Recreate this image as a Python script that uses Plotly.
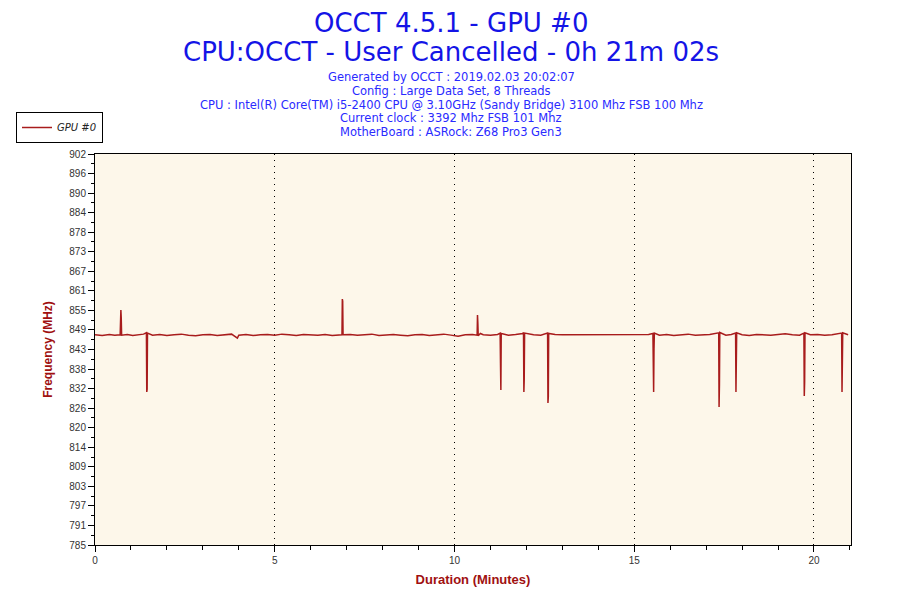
import numpy as np
import plotly.graph_objects as go

# GPU #0 core clock (minutes, MHz)
minutes = [
    0.00, 0.20, 0.40, 0.55, 0.70, 0.72, 0.73, 0.74, 0.90, 1.05,
    1.20, 1.35, 1.43, 1.44, 1.45, 1.46, 1.60, 1.80, 2.00, 2.20,
    2.40, 2.60, 2.80, 3.00, 3.20, 3.40, 3.60, 3.80, 3.96, 3.98,
    4.00, 4.20, 4.40, 4.60, 4.80, 5.00, 5.20, 5.40, 5.60, 5.80,
    6.00, 6.20, 6.40, 6.60, 6.87, 6.88, 6.89, 6.90, 7.10, 7.30,
    7.50, 7.70, 7.90, 8.10, 8.30, 8.50, 8.70, 8.90, 9.10, 9.30,
    9.50, 9.70, 9.90, 10.10, 10.30, 10.50, 10.63, 10.64, 10.65, 10.66,
    10.72, 10.80, 11.00, 11.20, 11.27, 11.28, 11.29, 11.30, 11.50, 11.70,
    11.90, 11.92, 11.93, 11.94, 11.95, 12.20, 12.40, 12.59, 12.60, 12.61,
    12.62, 12.80, 13.00, 13.20, 13.40, 13.60, 13.80, 14.00, 14.20, 14.40,
    14.60, 14.80, 15.00, 15.20, 15.40, 15.52, 15.53, 15.54, 15.55, 15.56,
    15.70, 15.90, 16.10, 16.30, 16.50, 16.70, 16.90, 17.10, 17.35, 17.36,
    17.37, 17.38, 17.55, 17.70, 17.82, 17.83, 17.84, 17.85, 18.00, 18.20,
    18.40, 18.60, 18.80, 19.00, 19.20, 19.40, 19.60, 19.72, 19.73, 19.74,
    19.75, 19.90, 20.10, 20.30, 20.50, 20.77, 20.78, 20.79, 20.80, 20.95,
]
freq_mhz = [
    847.9, 847.7, 848.0, 847.8, 847.9, 855.3, 852.9, 847.8, 848.0, 847.7,
    847.9, 848.1, 848.5, 830.8, 831.6, 848.4, 847.8, 848.0, 847.7, 847.9,
    848.1, 847.8, 847.6, 847.9, 848.0, 847.7, 847.9, 848.1, 846.9, 847.8,
    847.8, 848.0, 847.7, 847.9, 848.0, 847.8, 848.1, 847.9, 847.7, 848.0,
    847.9, 847.8, 848.0, 847.7, 847.9, 858.6, 858.0, 847.9, 848.0, 847.8,
    847.9, 848.1, 847.7, 847.9, 848.0, 847.8, 847.6, 847.9, 848.0, 847.7,
    847.9, 848.1, 847.8, 847.5, 847.9, 848.0, 847.8, 853.8, 851.4, 847.6,
    848.3, 847.9, 847.8, 848.0, 848.4, 839.2, 831.4, 848.3, 847.8, 848.0,
    848.3, 848.6, 830.8, 834.7, 848.4, 847.9, 847.8, 848.4, 827.5, 829.3,
    848.3, 848.0, 847.9, 847.9, 848.0, 847.9, 847.8, 847.9, 848.0, 847.9,
    847.8, 848.0, 847.9, 847.8, 848.0, 848.3, 839.2, 830.8, 843.7, 848.4,
    847.8, 848.0, 847.7, 847.9, 848.1, 847.8, 847.9, 848.0, 848.5, 826.3,
    832.9, 848.6, 847.8, 848.0, 848.4, 830.8, 842.2, 848.5, 847.9, 847.7,
    848.0, 847.9, 847.8, 848.0, 848.2, 847.9, 847.8, 848.4, 829.6, 833.8,
    848.5, 847.9, 848.0, 847.8, 847.9, 848.4, 830.8, 835.9, 848.5, 847.9,
]

y_tick_labels = ["785", "791", "797", "803", "809", "814", "820", "826", "832", "838",
                 "843", "849", "855", "861", "867", "873", "878", "884", "890", "896", "902"]
x_tick_labels = ["0", "5", "10", "15", "20"]

title_lines = ["OCCT 4.5.1 - GPU #0", "CPU:OCCT - User Cancelled - 0h 21m 02s"]
info_lines = [
    "Generated by OCCT : 2019.02.03 20:02:07",
    "Config : Large Data Set, 8 Threads",
    "CPU : Intel(R) Core(TM) i5-2400 CPU @ 3.10GHz (Sandy Bridge) 3100 Mhz FSB 100 Mhz",
    "Current clock : 3392 Mhz FSB 101 Mhz",
    "MotherBoard : ASRock: Z68 Pro3 Gen3",
]

Y_MIN, Y_MAX = 785, 902
X_MAX = 21.03
LINE_RED = "#a81c1c"
AXIS_RED = "#a01010"
TICK_FONT = dict(family="Liberation Sans Narrow, Liberation Sans, Arial", size=10, color="#333333")

y_ticks = np.linspace(Y_MIN, Y_MAX, len(y_tick_labels))
y_minor = (y_ticks[:-1] + y_ticks[1:]) / 2
x_ticks = [float(v) for v in x_tick_labels]

fig = go.Figure()
fig.add_trace(go.Scatter(
    x=minutes, y=freq_mhz, mode="lines", name="GPU #0",
    line=dict(color=LINE_RED, width=1.5),
))

# plot area on the page: left 94, right 850, top 153, bottom 544
# (the page body adds about 7px, so margins are 7px smaller)
def py(pix):
    return (544 - pix) / 391

page_centre = (450 - 94) / 756
annotations = []
for text, pix in zip(title_lines, [22, 51]):
    annotations.append(dict(
        text=text, x=page_centre, xref="paper", y=py(pix), yref="paper",
        xanchor="center", yanchor="middle", showarrow=False, borderpad=0,
        font=dict(family="DejaVu Sans, Verdana", size=26, color="#1414e6"),
    ))
for i, text in enumerate(info_lines):
    annotations.append(dict(
        text=text, x=page_centre, xref="paper", y=py(76 + i * 13.8), yref="paper",
        xanchor="center", yanchor="middle", showarrow=False,
        font=dict(family="DejaVu Sans, Verdana", size=11.5, color="#2a2aff"),
    ))

fig.update_layout(
    width=900, height=600,
    margin=dict(l=87, r=57, t=146, b=63, autoexpand=False),
    paper_bgcolor="white",
    plot_bgcolor="#fdf7ea",
    showlegend=True,
    legend=dict(
        x=(15 - 94) / 756, y=py(111), xanchor="left", yanchor="top",
        bordercolor="black", borderwidth=1, bgcolor="white",
        font=dict(family="DejaVu Sans, Verdana", size=10, color="#222222", style="italic"),
        itemwidth=30, tracegroupgap=0,
    ),
    annotations=annotations,
    xaxis=dict(
        range=[0, X_MAX],
        tickmode="array", tickvals=x_ticks, ticktext=x_tick_labels,
        ticks="outside", ticklen=6, tickcolor="black",
        minor=dict(tickmode="linear", tick0=0, dtick=1, ticks="outside", ticklen=4, tickcolor="black"),
        showgrid=True, gridcolor="black", gridwidth=1, griddash="1px,5px",
        showline=True, linecolor="black", linewidth=1, mirror=True,
        zeroline=False, tickfont=TICK_FONT,
        title=dict(text="<b>Duration (Minutes)</b>", standoff=9,
                   font=dict(family="Liberation Sans Narrow, Liberation Sans, Arial", size=13, color=AXIS_RED)),
    ),
    yaxis=dict(
        range=[Y_MIN, Y_MAX],
        tickmode="array", tickvals=y_ticks, ticktext=y_tick_labels,
        ticks="outside", ticklen=6, tickcolor="black",
        minor=dict(tickmode="array", tickvals=y_minor, ticks="outside", ticklen=3, tickcolor="black"),
        showgrid=False,
        showline=True, linecolor="black", linewidth=1, mirror=True,
        zeroline=False, tickfont=TICK_FONT,
        title=dict(text="<b>Frequency (MHz)</b>", standoff=14,
                   font=dict(family="Liberation Sans, Arial", size=12, color=AXIS_RED)),
    ),
)

fig.write_html("out.html")
